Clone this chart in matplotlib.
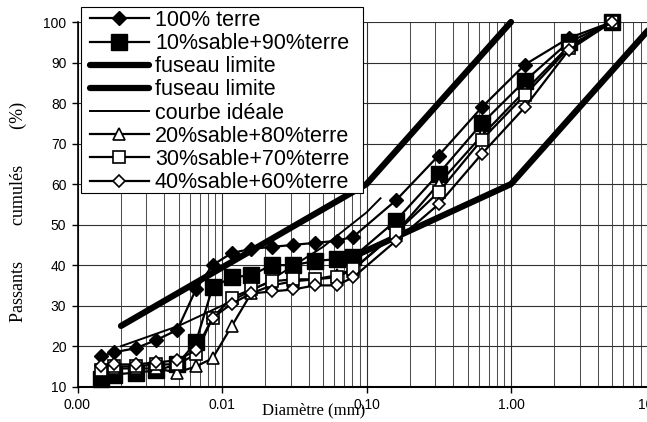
import numpy as np
import matplotlib
matplotlib.use('Agg')
import matplotlib.pyplot as plt
from matplotlib.patches import Rectangle
from matplotlib.ticker import FixedLocator, FuncFormatter, LogLocator, NullFormatter
from matplotlib.legend_handler import HandlerLine2D
from matplotlib.lines import Line2D

# ── 입도 분석 데이터 ──────────────────────────────────────
# 침강 분석(0.0015~0.08 mm) + 체 분석(0.16~5 mm)
diam = [0.00146, 0.0018, 0.00253, 0.0035, 0.0049, 0.0066, 0.0086,
        0.0117, 0.0159, 0.0221, 0.0312, 0.044, 0.062, 0.081,
        0.16, 0.315, 0.63, 1.25, 2.5, 5.0]

terre_100 = [17.5, 18.5, 19.5, 21.5, 24, 34, 40, 43, 44, 44.5, 45, 45.5, 46, 47,
             56, 67, 79, 89.5, 96, 100]
sable_10 = [12, 13, 13.5, 14, 15.5, 21, 34.5, 37, 37.5, 40, 40, 41, 41.5, 42,
            51, 62.5, 75, 85.5, 95, 100]
sable_20 = [14, 14.5, 14.5, 14.5, 13.5, 15, 17, 25, 33, 35, 36, 36.5, 37.5, 39,
            48, 60, 72, 83, 94, 100]
sable_30 = [14, 15, 15, 15.5, 15.5, 18, 27, 32, 34, 36, 36.5, 36.5, 37, 39,
            48, 58, 71, 82, 93.5, 100]
sable_40 = [15, 15.5, 15.5, 16, 16.5, 19, 27, 30.5, 33, 33.5, 34, 35, 35, 37,
            46, 55, 67.5, 79, 93, 100]

fuseau_sup_d = [0.002, 0.1, 1.0]
fuseau_sup_p = [25, 60, 100]
fuseau_inf_d = [0.08, 1.0, 10.0]
fuseau_inf_p = [42, 60, 100]

ideale_d = [0.002, 0.005, 0.01, 0.02, 0.05, 0.1, 0.125]
ideale_p = [20, 25, 30, 35.5, 44.5, 53, 56.5]

x_ticks = [0.001, 0.01, 0.1, 1.0, 10.0]
y_ticks = [10, 20, 30, 40, 50, 60, 70, 80, 90, 100]

W, H = 647, 422
fig = plt.figure(figsize=(W / 100, H / 100), dpi=100)
ax = fig.add_axes([77.5 / W, 1 - 386.7 / H, (655.5 - 77.5) / W, (386.7 - 22) / H])

ax.set_xscale('log')
ax.set_xlim(0.001, 10)
ax.set_ylim(10, 100)

# ── 격자 ──
ax.xaxis.set_major_locator(FixedLocator(x_ticks))
ax.xaxis.set_minor_locator(LogLocator(base=10, subs=np.arange(2, 10)))
ax.xaxis.set_minor_formatter(NullFormatter())
ax.xaxis.set_major_formatter(FuncFormatter(lambda v, p: f'{v:.2f}'))
ax.yaxis.set_major_locator(FixedLocator(y_ticks))
ax.grid(which='major', color='#303030', lw=0.8)
ax.grid(which='minor', axis='x', color='#505050', lw=0.75)
ax.set_axisbelow(True)

line_kw = dict(color='black', lw=1.6, clip_on=False, zorder=3)
ax.plot(diam, terre_100, marker='D', ms=7, mfc='black', mec='black',
        label='100% terre', **line_kw)
ax.plot(diam, sable_10, marker='s', ms=11, mfc='black', mec='black',
        label='10%sable+90%terre', **line_kw)
ax.plot(fuseau_sup_d, fuseau_sup_p, color='black', lw=4.5, solid_capstyle='round',
        clip_on=False, zorder=3, label='fuseau limite')
ax.plot(fuseau_inf_d, fuseau_inf_p, color='black', lw=4.5, solid_capstyle='round',
        clip_on=False, zorder=3, label='fuseau limite')
ax.plot(ideale_d, ideale_p, color='black', lw=1.4, clip_on=False, zorder=3,
        label='courbe idéale')
ax.plot(diam, sable_20, marker='^', ms=9, mfc='white', mec='black', mew=1.2,
        label='20%sable+80%terre', **line_kw)
ax.plot(diam, sable_30, marker='s', ms=9, mfc='white', mec='black', mew=1.2,
        label='30%sable+70%terre', **line_kw)
ax.plot(diam, sable_40, marker='D', ms=6.5, mfc='white', mec='black', mew=1.2,
        label='40%sable+60%terre', **line_kw)

# ── 축 ──
for s in ('top', 'right'):
    ax.spines[s].set_visible(False)
ax.spines['left'].set_linewidth(1.2)
ax.spines['bottom'].set_linewidth(1.5)
ax.tick_params(axis='both', which='major', direction='out', length=4, width=1,
               labelsize=10, pad=4)
ax.tick_params(axis='x', which='minor', length=0)
for lab in ax.get_xticklabels() + ax.get_yticklabels():
    lab.set_fontfamily('Liberation Sans')

fig.text(314 / W, 1 - 410 / H, 'Diamètre (mm)', ha='center', va='center',
         fontsize=12, family='Liberation Serif')
fig.text(18 / W, 1 - 212 / H, 'Passants        cumulés        (%)', ha='center',
         va='center', rotation=90, fontsize=13, family='Liberation Serif')

# ── 범례 ──
box = Rectangle((80.7 / W, 1 - 193 / H), (363 - 80.7) / W, (193 - 7) / H,
                transform=fig.transFigure, facecolor='white', edgecolor='black',
                lw=0.8, clip_on=False, zorder=4)
ax.add_patch(box)
leg = ax.legend(loc='upper left', bbox_to_anchor=(80.7 / W, 1 - 10 / H),
                bbox_transform=fig.transFigure, frameon=False, borderpad=0,
                borderaxespad=0, handlelength=3.15, handletextpad=0.3,
                labelspacing=0.1, numpoints=1,
                prop={'family': 'Liberation Sans', 'size': 15.5},
                handler_map={Line2D: HandlerLine2D(xpad=0.45)})
leg.set_zorder(5)

fig.savefig('out.png', dpi=100)
